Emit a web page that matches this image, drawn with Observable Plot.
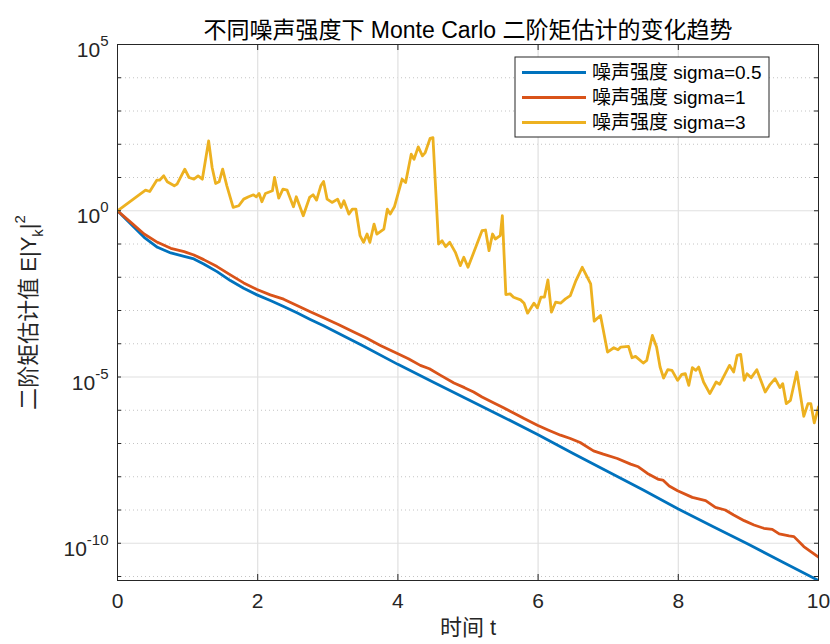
<!DOCTYPE html>
<html><head><meta charset="utf-8">
<script src="https://cdn.jsdelivr.net/npm/d3@7"></script>
<script src="https://cdn.jsdelivr.net/npm/@observablehq/plot@0.6"></script>
<style>
body{margin:0;background:#fff;}
#chart{width:830px;height:644px;}
</style></head><body><div id="chart"></div>
<script>
const titleText = "不同噪声强度下 Monte Carlo 二阶矩估计的变化趋势";
const xLabel = "时间 t";
const seriesNames = ["噪声强度 sigma=0.5", "噪声强度 sigma=1", "噪声强度 sigma=3"];
const seriesColors = ["#0072BD", "#D95319", "#EDB120"];
const xTicks = [0, 2, 4, 6, 8, 10];
const xGrid = [2, 4, 6, 8];
const yTickValues = [1e-10, 1e-5, 1e0, 1e5];
const yGridMajor = [1e-10, 1e-5, 1e0];
const yGridMinor = [1e-11, 1e-9, 1e-8, 1e-7, 1e-6, 1e-4, 1e-3, 1e-2, 1e-1, 1e1, 1e2, 1e3, 1e4];
const yDecades = [1e-11, 1e-10, 1e-9, 1e-8, 1e-7, 1e-6, 1e-5, 1e-4, 1e-3, 1e-2, 1e-1, 1e0, 1e1, 1e2, 1e3, 1e4, 1e5];
const yMin = 10 ** -11.12, yMax = 1e5;

// sigma = 0.5 : time and log10 of the second-moment estimate
const tS05 = [0, 0.19, 0.38, 0.57, 0.76, 0.95, 1.09, 1.23, 1.42, 1.61, 1.80, 1.99, 2.18, 2.37, 2.56, 2.75, 2.94, 3.5, 4.0, 4.5, 5.0, 5.5, 6.0, 6.5, 7.0, 7.5, 8.0, 8.5, 9.0, 9.5, 10];
const logS05 = [0, -0.4, -0.8, -1.1, -1.27, -1.37, -1.45, -1.6, -1.83, -2.1, -2.33, -2.53, -2.7, -2.88, -3.07, -3.27, -3.46, -4.06, -4.62, -5.15, -5.68, -6.2, -6.74, -7.3, -7.85, -8.4, -8.97, -9.5, -10.03, -10.58, -11.12];

// sigma = 1
const tS1 = [0, 0.19, 0.38, 0.57, 0.76, 0.95, 1.09, 1.23, 1.42, 1.61, 1.80, 1.99, 2.18, 2.37, 2.56, 2.75, 2.94, 3.15, 3.37, 3.55, 3.75, 4.0, 4.15, 4.32, 4.45, 4.61, 4.80, 4.95, 5.08, 5.2, 5.37, 5.5, 5.65, 5.8, 5.99, 6.15, 6.32, 6.46, 6.6, 6.79, 6.93, 7.13, 7.32, 7.43, 7.56, 7.72, 7.78, 7.87, 7.99, 8.2, 8.39, 8.53, 8.67, 8.79, 8.94, 9.08, 9.22, 9.34, 9.44, 9.58, 9.65, 9.79, 9.89, 10.0];
const logS1 = [0, -0.35, -0.7, -0.95, -1.13, -1.23, -1.33, -1.47, -1.68, -1.93, -2.17, -2.37, -2.53, -2.66, -2.85, -3.04, -3.22, -3.42, -3.65, -3.83, -4.05, -4.3, -4.45, -4.65, -4.75, -4.95, -5.18, -5.32, -5.45, -5.6, -5.78, -5.92, -6.08, -6.25, -6.45, -6.6, -6.75, -6.85, -6.97, -7.22, -7.32, -7.45, -7.62, -7.7, -7.9, -8.08, -8.1, -8.28, -8.42, -8.62, -8.72, -8.92, -9.0, -9.15, -9.32, -9.45, -9.55, -9.58, -9.72, -9.78, -9.8, -10.1, -10.25, -10.42];

// sigma = 3
const tS3 = [0, 0.40, 0.46, 0.56, 0.60, 0.66, 0.71, 0.81, 0.85, 0.96, 1.02, 1.09, 1.15, 1.21, 1.30, 1.35, 1.40, 1.45, 1.50, 1.56, 1.65, 1.73, 1.80, 1.87, 1.94, 1.98, 2.02, 2.06, 2.11, 2.21, 2.24, 2.30, 2.36, 2.42, 2.51, 2.55, 2.65, 2.74, 2.79, 2.84, 2.90, 2.94, 2.99, 3.06, 3.14, 3.19, 3.23, 3.30, 3.35, 3.40, 3.46, 3.51, 3.56, 3.60, 3.66, 3.70, 3.80, 3.85, 3.89, 3.95, 4.06, 4.11, 4.19, 4.23, 4.29, 4.35, 4.39, 4.46, 4.50, 4.58, 4.63, 4.68, 4.74, 4.82, 4.89, 4.94, 5.00, 5.11, 5.20, 5.25, 5.30, 5.35, 5.39, 5.46, 5.49, 5.54, 5.60, 5.65, 5.75, 5.80, 5.85, 5.94, 5.99, 6.04, 6.09, 6.14, 6.19, 6.25, 6.32, 6.39, 6.46, 6.54, 6.63, 6.75, 6.80, 6.89, 6.99, 7.08, 7.14, 7.18, 7.29, 7.34, 7.39, 7.50, 7.55, 7.63, 7.69, 7.74, 7.79, 7.85, 7.91, 7.99, 8.05, 8.10, 8.15, 8.20, 8.25, 8.29, 8.36, 8.45, 8.54, 8.59, 8.73, 8.79, 8.84, 8.89, 8.94, 8.98, 9.04, 9.12, 9.24, 9.31, 9.38, 9.45, 9.49, 9.54, 9.60, 9.69, 9.79, 9.85, 9.89, 9.94, 10.0];
const logS3 = [0, 0.62, 0.58, 0.92, 0.92, 1.05, 0.87, 0.75, 0.80, 1.25, 1.0, 0.95, 1.05, 0.95, 2.1, 1.3, 0.82, 0.87, 1.25, 0.75, 0.10, 0.15, 0.35, 0.42, 0.48, 0.42, 0.52, 0.27, 0.52, 0.60, 1.0, 0.38, 0.65, 0.62, 0.12, 0.42, -0.15, 0.40, 0.48, 0.32, 0.75, 0.88, 0.35, 0.25, 0.35, 0.10, 0.30, -0.10, 0.05, 0.05, -0.75, -0.95, -0.70, -0.95, -0.40, -0.70, -0.55, 0.05, -0.10, 0.12, 0.95, 0.85, 1.7, 1.55, 1.92, 1.65, 1.75, 2.18, 2.2, -1.0, -0.9, -1.08, -0.95, -1.25, -1.65, -1.4, -1.7, -1.1, -0.6, -0.58, -1.2, -0.7, -0.85, -0.75, -0.15, -2.52, -2.5, -2.6, -2.68, -2.78, -3.08, -2.78, -2.92, -2.6, -2.6, -2.08, -3.05, -2.75, -2.78, -2.65, -2.55, -2.1, -1.7, -2.2, -3.32, -3.15, -4.25, -4.12, -4.18, -4.1, -4.08, -4.42, -4.38, -4.58, -4.5, -3.75, -4.1, -4.7, -5.03, -4.78, -4.8, -5.1, -4.92, -4.9, -5.25, -4.72, -4.8, -4.7, -5.15, -5.5, -5.15, -5.22, -4.65, -4.85, -4.35, -4.32, -5.1, -4.9, -5.02, -4.78, -5.45, -5.22, -5.05, -5.32, -5.2, -5.8, -5.7, -4.85, -6.18, -5.8, -5.8, -6.38, -5.9];

const seriesT = [tS05, tS1, tS3];
const seriesLog = [logS05, logS1, logS3];
const rows = [];
seriesNames.forEach((name, i) => {
  seriesT[i].forEach((t, j) => rows.push({t, v: Math.pow(10, seriesLog[i][j]), s: name}));
});

const W = 830, H = 644, mL = 117, mR = 12, mT = 44, mB = 64;
const frameW = W - mL - mR, frameH = H - mT - mB;
const axisColor = "#262626";
const fontFamily = "'Liberation Sans', Arial, 'Noto Sans CJK SC', sans-serif";
const Y_LABEL_KEY = "__ylabel__";

const chart = Plot.plot({
  width: W, height: H,
  marginLeft: mL, marginRight: mR, marginTop: mT, marginBottom: mB,
  style: {fontFamily, fontSize: "21px", color: axisColor, background: "#fff"},
  x: {domain: [0, 10], axis: null},
  y: {type: "log", domain: [yMin, yMax], axis: null},
  color: {domain: seriesNames, range: seriesColors},
  marks: [
    Plot.ruleY(yGridMinor, {y: d => d, stroke: "#c4c4c4", strokeDasharray: "1,3", strokeWidth: 1}),
    Plot.ruleY(yGridMajor, {y: d => d, stroke: "#e0e0e0", strokeWidth: 1.2}),
    Plot.ruleX(xGrid, {x: d => d, stroke: "#e0e0e0", strokeWidth: 1.2}),
    Plot.line(rows, {x: "t", y: "v", z: "s", stroke: "s", strokeWidth: 2.8, clip: true}),
    Plot.frame({stroke: axisColor, strokeWidth: 1}),
    Plot.ruleX(xTicks, {x: d => d, insetTop: frameH - 6, stroke: axisColor}),
    Plot.ruleX(xTicks, {x: d => d, insetBottom: frameH - 6, stroke: axisColor}),
    Plot.ruleY(yDecades, {y: d => d, insetRight: frameW - 4, stroke: axisColor}),
    Plot.ruleY(yDecades, {y: d => d, insetLeft: frameW - 4, stroke: axisColor}),
    Plot.text(xTicks, {x: d => d, frameAnchor: "bottom", dy: 27, text: d => String(d), fontSize: 21, fill: axisColor}),
    Plot.text(yTickValues, {y: d => d, frameAnchor: "left", dx: -9, dy: 6, textAnchor: "end", text: d => "10|" + Math.round(Math.log10(d)), fontSize: 21, fill: axisColor}),
    Plot.text([titleText], {frameAnchor: "top", dy: -23, text: d => d, fontSize: 23, fill: "#000"}),
    Plot.text([xLabel], {frameAnchor: "bottom", dy: 54, text: d => d, fontSize: 22, fill: axisColor}),
    Plot.text([Y_LABEL_KEY], {frameAnchor: "left", dx: -89, rotate: -90, textAnchor: "middle", text: d => d, fontSize: 22, fill: axisColor})
  ]
});

const svgNode = chart.tagName.toLowerCase() === "svg" ? chart : chart.querySelector("svg");
const svg = d3.select(svgNode);

svg.selectAll("text").each(function() {
  const s = this.textContent;
  const t = d3.select(this);
  if (/^10\|-?\d+$/.test(s)) {
    const parts = s.split("|");
    t.text(parts[0]);
    t.append("tspan").attr("dy", -11).attr("font-size", 15).text(parts[1]);
  } else if (s === Y_LABEL_KEY) {
    t.text("二阶矩估计值 E|Y");
    t.append("tspan").attr("dy", 7).attr("font-size", 15).text("k");
    t.append("tspan").attr("dy", -7).text("|");
    t.append("tspan").attr("dy", -11).attr("font-size", 15).text("2");
  }
});

// legend
const lg = svg.append("g").attr("font-family", fontFamily).attr("font-size", 19).attr("text-anchor", "start");
lg.append("rect").attr("x", 515).attr("y", 57).attr("width", 254).attr("height", 80)
  .attr("fill", "#fff").attr("stroke", axisColor).attr("stroke-width", 1);
seriesNames.forEach((name, i) => {
  const y = 72.5 + i * 25;
  lg.append("line").attr("x1", 522).attr("x2", 586).attr("y1", y).attr("y2", y)
    .attr("stroke", seriesColors[i]).attr("stroke-width", 2.8);
  lg.append("text").attr("x", 592).attr("y", y).attr("dy", "0.35em").attr("fill", "#000").attr("text-anchor", "start").text(name);
});

document.getElementById("chart").append(chart);
</script>
</body></html>
